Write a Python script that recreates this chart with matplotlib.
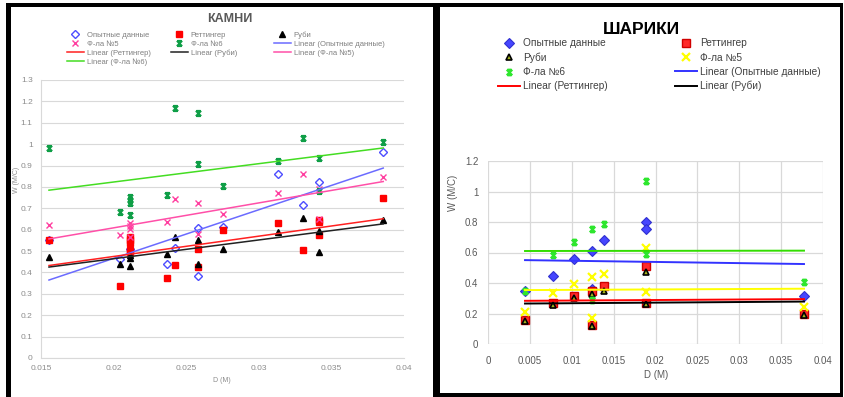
import numpy as np
import matplotlib
matplotlib.use("Agg")
import matplotlib.pyplot as plt
from matplotlib.path import Path
from matplotlib.patches import Rectangle
from matplotlib.ticker import FormatStrFormatter

plt.rcParams['font.family'] = ['Liberation Sans', 'DejaVu Sans']

# ---------------- КАМНИ ----------------
st_exp_d = [0.01555, 0.02044, 0.02113, 0.02366, 0.02425, 0.02579, 0.02579,
            0.02756, 0.0313, 0.03306, 0.03417, 0.03857]
st_exp_w = [0.55, 0.463, 0.509, 0.438, 0.513, 0.606, 0.385,
            0.614, 0.860, 0.715, 0.824, 0.961]

st_ret_d = [0.01555, 0.02044, 0.02113, 0.02113, 0.02113, 0.02113, 0.02113,
            0.02366, 0.02425, 0.02579, 0.02579, 0.02756, 0.0313, 0.03306,
            0.03417, 0.03417, 0.03417, 0.03857]
st_ret_w = [0.551, 0.338, 0.567, 0.551, 0.54, 0.505, 0.497,
            0.375, 0.435, 0.509, 0.427, 0.598, 0.629, 0.505,
            0.645, 0.634, 0.575, 0.749]

st_rub_d = [0.01555, 0.02044, 0.02113, 0.02113, 0.02113, 0.02366, 0.02425,
            0.02579, 0.02579, 0.02756, 0.0313, 0.03306, 0.03417, 0.03417,
            0.03857]
st_rub_w = [0.470, 0.439, 0.481, 0.466, 0.430, 0.486, 0.564,
            0.554, 0.439, 0.512, 0.590, 0.656, 0.595, 0.494,
            0.645]

st_f5_d = [0.01555, 0.02044, 0.02113, 0.02113, 0.02113, 0.02113, 0.02366,
           0.02425, 0.02579, 0.02579, 0.02756, 0.0313, 0.03306, 0.03417,
           0.03417, 0.03857]
st_f5_w = [0.621, 0.575, 0.632, 0.617, 0.603, 0.565, 0.637,
           0.743, 0.727, 0.579, 0.673, 0.773, 0.860, 0.788,
           0.651, 0.847]

st_f6_d = [0.01555, 0.02044, 0.02113, 0.02113, 0.02113, 0.02113, 0.02366,
           0.02425, 0.02579, 0.02579, 0.02756, 0.0313, 0.03306, 0.03417,
           0.03417, 0.03857]
st_f6_w = [0.980, 0.684, 0.751, 0.738, 0.726, 0.671, 0.760,
           1.170, 1.148, 0.908, 0.804, 0.922, 1.027, 0.933,
           0.782, 1.011]

# ---------------- ШАРИКИ ----------------
ball_d = [0.00442, 0.0078, 0.01027, 0.01246, 0.01246, 0.01385,
          0.01887, 0.01887, 0.03773]
ball_exp = [0.35, 0.448, 0.557, 0.61, 0.36, 0.682, 0.802, 0.752, 0.315]
ball_ret = [0.157, 0.271, 0.317, 0.35, 0.125, 0.382, 0.511, 0.271, 0.197]
ball_rub = [0.15, 0.255, 0.30, 0.33, 0.12, 0.35, 0.47, 0.26, 0.19]
ball_f5 = [0.208, 0.332, 0.391, 0.437, 0.168, 0.457, 0.627, 0.343, 0.245]
ball_f6 = [0.35, 0.584, 0.667, 0.752, 0.289, 0.785, 1.071, 0.588, 0.409]

W, H = 844, 397

# hourglass-like cross used by Excel for the "star" marker
star = Path([(-1, -1), (1, 1), (-1, 1), (1, -1),
             (-0.75, 1), (0.75, 1), (-0.75, -1), (0.75, -1)],
            [Path.MOVETO, Path.LINETO] * 4)


def trend(ax, d, w, color, lw):
    k, b = np.polyfit(d, w, 1)
    xs = np.array([min(d), max(d)])
    return ax.plot(xs, k * xs + b, color=color, lw=lw, zorder=4)[0]


def px_axes(l, t, r, b):
    return fig.add_axes([l / W, 1 - b / H, (r - l) / W, (b - t) / H])


def column_legend(handles, labels, x, y, **kw):
    fig.legend(handles, labels, loc='upper left',
               bbox_to_anchor=(x / W, 1 - y / H), frameon=False,
               borderpad=0, borderaxespad=0, **kw)


fig = plt.figure(figsize=(W / 100, H / 100), dpi=100)

# ---- left chart ----
ax1 = px_axes(41, 80, 404, 358)
ms1 = 4.6
h_exp = ax1.plot(st_exp_d, st_exp_w, 'D', ms=ms1 - 0.8, mfc='white',
                 mec='#4d4dff', mew=1, ls='none', zorder=3)[0]
h_ret = ax1.plot(st_ret_d, st_ret_w, 's', ms=ms1, color='#ff0000',
                 ls='none', zorder=3)[0]
h_rub = ax1.plot(st_rub_d, st_rub_w, '^', ms=ms1, color='black',
                 ls='none', zorder=3)[0]
h_f5 = ax1.plot(st_f5_d, st_f5_w, 'x', ms=ms1, mew=1, color='#ff3fa0',
                ls='none', zorder=3)[0]
h_f6 = ax1.plot(st_f6_d, st_f6_w, marker=star, ms=ms1 - 0.8, mew=1.4,
                color='#0e9e46', ls='none', zorder=3)[0]
t_exp = trend(ax1, st_exp_d, st_exp_w, '#6b6bff', 1.1)
t_ret = trend(ax1, st_ret_d, st_ret_w, '#ff2020', 1.1)
t_rub = trend(ax1, st_rub_d, st_rub_w, '#222222', 1.1)
t_f5 = trend(ax1, st_f5_d, st_f5_w, '#ff4fa8', 1.1)
t_f6 = trend(ax1, st_f6_d, st_f6_w, '#44dd22', 1.1)

ax1.set_xlim(0.015, 0.04)
ax1.set_ylim(0, 1.3)
ax1.set_xticks(np.arange(0.015, 0.0401, 0.005))
ax1.set_yticks(np.arange(0, 1.31, 0.1))
ax1.xaxis.set_major_formatter(FormatStrFormatter('%g'))
ax1.yaxis.set_major_formatter(FormatStrFormatter('%g'))
ax1.grid(axis='y', color='#d9d9d9', lw=0.8)
ax1.set_axisbelow(True)
for s in ['top', 'right']:
    ax1.spines[s].set_visible(False)
for s in ['left', 'bottom']:
    ax1.spines[s].set_color('#d9d9d9')
ax1.tick_params(length=0, labelsize=6, labelcolor='#8c8c8c')
ax1.tick_params(axis='x', pad=5)
ax1.tick_params(axis='y', pad=6)
fig.text(222 / W, 1 - 380 / H, 'D (M)', ha='center', va='center',
         fontsize=5, color='#8c8c8c')
fig.text(17 / W, 1 - 180 / H, 'W (M/C)', ha='center', va='center',
         rotation=90, fontsize=5, color='#8c8c8c')
fig.text(230 / W, 1 - 19 / H, 'КАМНИ', ha='center', va='center',
         fontsize=9, fontweight='bold', color='#595959')

leg1 = dict(fontsize=5.5, labelcolor='#7f7f7f', handlelength=2.2,
            handletextpad=0.4, labelspacing=0.22)
column_legend([h_exp, h_f5, t_ret, t_f6],
              ['Опытные данные', 'Ф-ла №5', 'Linear (Реттингер)', 'Linear (Ф-ла №6)'],
              67, 31.5, **leg1)
column_legend([h_ret, h_f6, t_rub],
              ['Реттингер', 'Ф-ла №6', 'Linear (Руби)'],
              171, 31.5, **leg1)
column_legend([h_rub, t_exp, t_f5],
              ['Руби', 'Linear (Опытные данные)', 'Linear (Ф-ла №5)'],
              274, 31.5, **leg1)

# ---- right chart ----
ax2 = px_axes(488, 161, 823, 344)
ms2 = 5.5
g_exp = ax2.plot(ball_d, ball_exp, 'D', ms=ms2 - 0.5, mfc='#4646ff',
                 mec='#3030d0', mew=0.8, ls='none', zorder=3)[0]
g_ret = ax2.plot(ball_d, ball_ret, 's', ms=ms2, mfc='#ff2a2a',
                 mec='#d00000', mew=1, ls='none', zorder=3)[0]
g_rub = ax2.plot(ball_d, ball_rub, '^', ms=ms2 - 0.5, mfc='#a4b41c',
                 mec='black', mew=1.2, ls='none', zorder=3)[0]
g_f5 = ax2.plot(ball_d, ball_f5, 'x', ms=ms2, mew=1.6, color='#ffff00',
                ls='none', zorder=3)[0]
g_f6 = ax2.plot(ball_d, ball_f6, marker=star, ms=ms2 - 1.5, mew=1.6,
                color='#2ee62e', ls='none', zorder=3)[0]
u_exp = trend(ax2, ball_d, ball_exp, '#3333ff', 1.4)
u_ret = trend(ax2, ball_d, ball_ret, '#ff0000', 1.4)
u_rub = trend(ax2, ball_d, ball_rub, '#000000', 1.4)
trend(ax2, ball_d, ball_f5, '#ffff00', 1.4)
trend(ax2, ball_d, ball_f6, '#33dd00', 1.4)

ax2.set_xlim(0, 0.04)
ax2.set_ylim(0, 1.2)
ax2.set_xticks(np.arange(0, 0.0401, 0.005))
ax2.set_yticks(np.arange(0, 1.21, 0.2))
ax2.xaxis.set_major_formatter(FormatStrFormatter('%g'))
ax2.yaxis.set_major_formatter(FormatStrFormatter('%g'))
ax2.grid(color='#d9d9d9', lw=0.9)
ax2.set_axisbelow(True)
for s in ax2.spines.values():
    s.set_visible(False)
ax2.tick_params(length=0, labelsize=7, labelcolor='#595959')
ax2.tick_params(axis='x', pad=9)
ax2.tick_params(axis='y', pad=7)
fig.text(656 / W, 1 - 375 / H, 'D (M)', ha='center', va='center',
         fontsize=7, color='#595959')
fig.text(453 / W, 1 - 193 / H, 'W (M/C)', ha='center', va='center',
         rotation=90, fontsize=7, color='#595959')
fig.text(641 / W, 1 - 29 / H, 'ШАРИКИ', ha='center', va='center',
         fontsize=12.5, fontweight='bold', color='black')

leg2 = dict(fontsize=7.3, labelcolor='#404040', handlelength=2.2,
            handletextpad=0.25, labelspacing=0.4)
column_legend([g_exp, g_rub, g_f6, u_ret],
              ['Опытные данные', 'Руби', 'Ф-ла №6', 'Linear (Реттингер)'],
              498, 38.5, **leg2)
column_legend([g_ret, g_f5, u_exp, u_rub],
              ['Реттингер', 'Ф-ла №5', 'Linear (Опытные данные)', 'Linear (Руби)'],
              675, 38.5, **leg2)

# black frames around both charts
for l, t, r, b in [(6, 3, 11, 397), (6, 3, 843, 7), (433, 3, 440, 397),
                   (840, 3, 843, 397), (433, 393, 843, 397)]:
    fig.add_artist(Rectangle((l / W, 1 - b / H), (r - l) / W, (b - t) / H,
                             transform=fig.transFigure, color='black', lw=0))

fig.savefig('out.png', dpi=100)
